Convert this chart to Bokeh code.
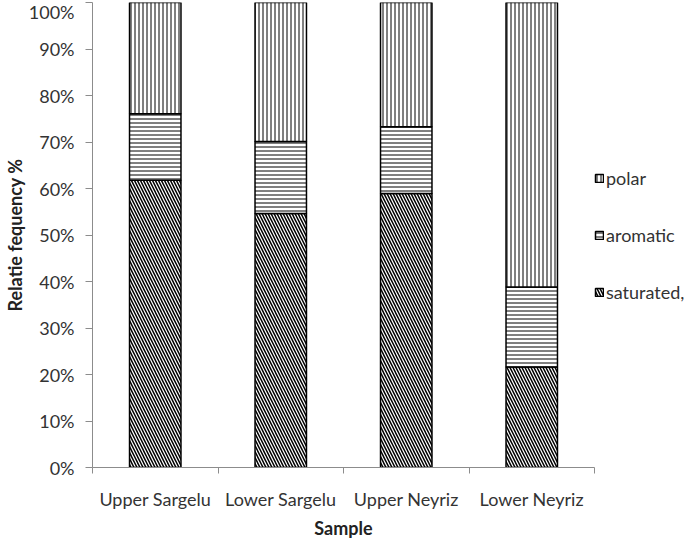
from bokeh.plotting import figure
from bokeh.models import (Range1d, LinearAxis, FixedTicker,
                          NumeralTickFormatter, Legend, LegendItem)
from bokeh.embed import file_html
from bokeh.resources import INLINE
import numpy as np

samples = ["Upper Sargelu", "Lower Sargelu", "Upper Neyriz", "Lower Neyriz"]
saturated = [61.8, 54.6, 58.9, 21.6]
aromatic = [14.3, 15.5, 14.4, 17.2]
polar = [23.9, 29.9, 26.7, 61.2]
y_ticks = [0, 0.1, 0.2, 0.3, 0.4, 0.5, 0.6, 0.7, 0.8, 0.9, 1.0]

FONT = "Lato"
FS = "18px"
GREY = "#8c8c8c"
TXT = "#333333"

n = len(samples)
xc = [i + 0.5 for i in range(n)]          # category centres on a numeric scale
sat = np.array(saturated) / 100.0
aro = np.array(aromatic) / 100.0
pol = np.array(polar) / 100.0
b1 = sat
b2 = sat + aro
b3 = b2 + pol

p = figure(x_range=Range1d(0, n), y_range=Range1d(0, 1),
           frame_width=502, frame_height=465, output_backend="svg", toolbar_location=None,
           x_axis_location=None, y_axis_location=None,
           min_border_left=82, min_border_top=2, min_border_right=93, min_border_bottom=0)
p.outline_line_color = None
p.background_fill_color = "white"
p.border_fill_color = "white"
p.grid.visible = False

common = dict(width=0.41, fill_color="white", line_color="black", line_width=1.5,
              hatch_color="black")
r_sat = p.vbar(x=xc, bottom=0, top=b1, hatch_pattern="\\", hatch_scale=6, hatch_weight=1.5, **common)
r_aro = p.vbar(x=xc, bottom=b1, top=b2, hatch_pattern="-", hatch_scale=4, hatch_weight=1.0, **common)
r_pol = p.vbar(x=xc, bottom=b2, top=b3, hatch_pattern="|", hatch_scale=4, hatch_weight=1.0, **common)

# y axis
yax = LinearAxis(ticker=FixedTicker(ticks=y_ticks), formatter=NumeralTickFormatter(format="0%"),
                 axis_label="Relatie fequency %")
yax.axis_line_color = GREY
yax.major_tick_line_color = GREY
yax.minor_tick_line_color = None
yax.major_tick_out = 7
yax.major_tick_in = 0
yax.major_label_standoff = 11
yax.major_label_text_font = FONT
yax.major_label_text_font_size = FS
yax.major_label_text_color = TXT
yax.axis_label_text_font = FONT
yax.axis_label_text_font_size = FS
yax.axis_label_text_font_style = "bold"
yax.axis_label_text_color = "#222222"
yax.axis_label_standoff = 0
p.add_layout(yax, "left")

# x axis: labels at category centres, minor ticks at category boundaries
xax = LinearAxis(ticker=FixedTicker(ticks=xc, minor_ticks=list(range(n + 1))), axis_label="Sample",
                 major_label_overrides={c: s for c, s in zip(xc, samples)})
xax.axis_line_color = GREY
xax.major_tick_line_color = None
xax.major_tick_out = 0
xax.major_tick_in = 0
xax.minor_tick_line_color = GREY
xax.minor_tick_out = 6
xax.minor_tick_in = 0
xax.major_label_standoff = 14
xax.major_label_text_font = FONT
xax.major_label_text_font_size = FS
xax.major_label_text_color = TXT
xax.axis_label_text_font = FONT
xax.axis_label_text_font_size = FS
xax.axis_label_text_font_style = "bold"
xax.axis_label_text_color = "#222222"
xax.axis_label_standoff = 4
p.add_layout(xax, "below")

legend = Legend(items=[LegendItem(label="polar", renderers=[r_pol]),
                       LegendItem(label="aromatic", renderers=[r_aro]),
                       LegendItem(label="saturated,", renderers=[r_sat])],
                location="center_left")
legend.glyph_width = 10
legend.glyph_height = 10
legend.label_standoff = 2
legend.label_height = 20
legend.spacing = 35
legend.padding = 0
legend.margin = 0
legend.border_line_color = None
legend.background_fill_alpha = 0
legend.label_text_font = FONT
legend.label_text_font_size = FS
legend.label_text_color = TXT
p.add_layout(legend, "right")

open("out.html", "w").write(file_html(p, INLINE))
